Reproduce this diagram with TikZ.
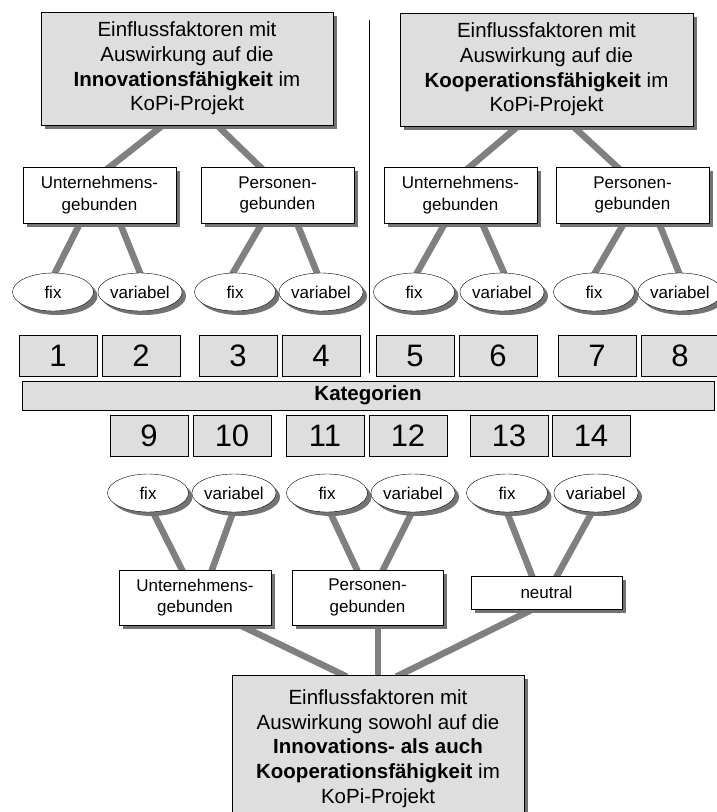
\documentclass[tikz,border=0pt]{standalone}
\usepackage{fontspec}
\setmainfont{Liberation Sans}
\usetikzlibrary{shapes.geometric, shadows, backgrounds}

\definecolor{boxgray}{gray}{0.87}
\definecolor{linkgray}{gray}{0.5}
\definecolor{shadegray}{gray}{0.45}

\begin{document}
\begin{tikzpicture}[
    x=1pt, y=-1pt,
    % Styles
    dropshade/.style={ % Grey shadow under boxes and ellipses
        drop shadow={shadow xshift=4pt, shadow yshift=-4pt, fill=shadegray, opacity=1}
    },
    factorbox/.style={ % Main boxes
        rectangle,
        draw,
        fill=boxgray,
        dropshade,
        align=center,
        inner sep=0pt,
        font=\fontsize{20.5}{24.7}\selectfont
    },
    typebox/.style={ % Unternehmens- / Personengebunden
        rectangle,
        draw,
        fill=white,
        dropshade,
        align=center,
        inner sep=0pt,
        minimum width=153,
        minimum height=56,
        font=\fontsize{17}{21.5}\selectfont
    },
    attr/.style={ % fix / variabel
        ellipse,
        draw,
        fill=white,
        dropshade,
        inner sep=0pt,
        minimum width=81,
        minimum height=38,
        font=\fontsize{17}{20}\selectfont
    },
    numbox/.style={ % Category numbers
        rectangle,
        draw,
        fill=boxgray,
        inner sep=0pt,
        minimum width=78,
        minimum height=41,
        font=\fontsize{31}{31}\selectfont
    },
    link/.style={ % Thick grey connectors
        draw=linkgray,
        line width=6.5pt,
        shorten <=-4pt,
        shorten >=-4pt
    }
]
    \useasboundingbox (0,0) rectangle (717,812);

    % Upper half: Innovation (left) and Kooperation (right)
    \node[factorbox, minimum width=292, minimum height=113] (inno) at (187,68.5)
        {Einflussfaktoren mit\\Auswirkung auf die\\\textbf{Innovationsfähigkeit} im\\KoPi-Projekt};
    \node[factorbox, minimum width=293, minimum height=113] (koop) at (546.5,69.5)
        {Einflussfaktoren mit\\Auswirkung auf die\\\textbf{Kooperationsfähigkeit} im\\KoPi-Projekt};

    % Separator between both halves
    \coordinate (sepTop) at (369,20);
    \coordinate (sepBot) at (369,373);
    \draw[line width=1pt] (sepTop) -- (sepBot);

    \node[typebox] (unternA) at (99.5,195) {Unternehmens-\\gebunden};
    \node[typebox] (personA) at (277.5,195) {Personen-\\gebunden};
    \node[typebox] (unternB) at (460.5,195) {Unternehmens-\\gebunden};
    \node[typebox] (personB) at (632.5,195) {Personen-\\gebunden};

    \foreach \n/\x in {A/53, B/235, C/414, D/594}
        \node[attr] (fix\n) at (\x,292) {fix};
    \foreach \n/\x in {A/140, B/321, C/502, D/680}
        \node[attr] (var\n) at (\x,292) {variabel};

    % Categories
    \foreach \n/\x in {1/58, 2/141, 3/238, 4/321, 5/415, 6/498, 7/597, 8/680}
        \node[numbox] (num\n) at (\x,355.5) {\n};
    \node[rectangle, draw, fill=boxgray, minimum width=692, minimum height=29, inner sep=0pt,
        font=\fontsize{20.5}{24}\selectfont\bfseries] (kat) at (368,395.5) {Kategorien};
    \foreach \n/\x in {9/149, 10/232, 11/325, 12/408, 13/509, 14/591}
        \node[numbox] (num\n) at (\x,435.5) {\n};

    % Lower half: both Innovation and Kooperation
    \foreach \n/\x in {E/148, F/327, G/507}
        \node[attr] (fix\n) at (\x,493) {fix};
    \foreach \n/\x in {E/234, F/413, G/596}
        \node[attr] (var\n) at (\x,493) {variabel};

    \node[typebox, minimum width=152, minimum height=55] (unternC) at (195,597.5) {Unternehmens-\\gebunden};
    \node[typebox, minimum width=151, minimum height=55] (personC) at (367.5,597.5) {Personen-\\gebunden};
    \node[typebox, minimum width=151, minimum height=33] (neutral) at (546.5,592.5) {neutral};

    \node[factorbox, minimum width=292, minimum height=147] (both) at (378,748.5)
        {Einflussfaktoren mit\\Auswirkung sowohl auf die\\\textbf{Innovations- als auch}\\\textbf{Kooperationsfähigkeit} im\\KoPi-Projekt};

    % Connectors behind the boxes
    \begin{scope}[on background layer]
        \draw[link] ([xshift=-24pt]inno.south) -- ([xshift=10.5pt]unternA.north);
        \draw[link] ([xshift=30pt]inno.south) -- ([xshift=-17.5pt]personA.north);
        \draw[link] ([xshift=-28.5pt]koop.south) -- ([xshift=9.5pt]unternB.north);
        \draw[link] ([xshift=26.5pt]koop.south) -- ([xshift=-15.5pt]personB.north);

        \draw[link] ([xshift=-19.5pt]unternA.south) -- ([xshift=2pt]fixA.north);
        \draw[link] ([xshift=20.5pt]unternA.south) -- (varA.north);
        \draw[link] ([xshift=-15.5pt]personA.south) -- ([xshift=-2pt]fixB.north);
        \draw[link] ([xshift=19.5pt]personA.south) -- ([xshift=-4pt]varB.north);
        \draw[link] ([xshift=-15.5pt]unternB.south) -- ([xshift=3pt]fixC.north);
        \draw[link] ([xshift=21.5pt]unternB.south) -- ([xshift=2pt]varC.north);
        \draw[link] ([xshift=-8.5pt]personB.south) -- ([xshift=1pt]fixD.north);
        \draw[link] ([xshift=26.5pt]personB.south) -- ([xshift=-1pt]varD.north);

        \draw[link] ([xshift=5pt]fixE.south) -- ([xshift=-13pt]unternC.north);
        \draw[link] ([xshift=-1pt]varE.south) -- ([xshift=17pt]unternC.north);
        \draw[link] ([xshift=3pt]fixF.south) -- ([xshift=-10.5pt]personC.north);
        \draw[link] ([xshift=-1pt]varF.south) -- ([xshift=15.5pt]personC.north);
        \draw[link] (fixG.south) -- ([xshift=-14.5pt]neutral.north);
        \draw[link] ([xshift=-4pt]varG.south) -- ([xshift=10.5pt]neutral.north);

        \draw[link] ([xshift=45pt]unternC.south) -- ([xshift=-35pt]both.north);
        \draw[link] ([xshift=10.5pt]personC.south) -- (both.north);
        \draw[link] ([xshift=-13.5pt]neutral.south) -- ([xshift=22pt]both.north);
    \end{scope}
\end{tikzpicture}
\end{document}
